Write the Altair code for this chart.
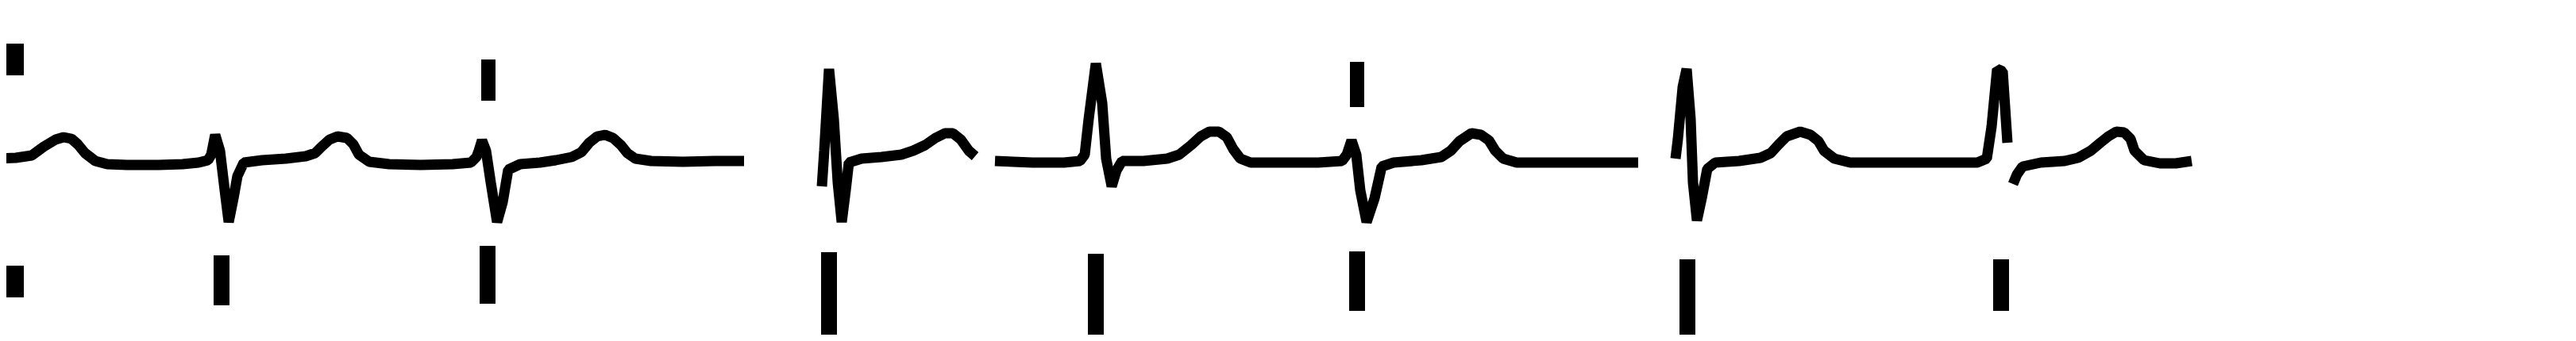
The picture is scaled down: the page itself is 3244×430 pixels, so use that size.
import altair as alt
import pandas as pd

# ECG trace: time position (t) and amplitude (v, baseline = 0)
seg1_t = [0, 20, 40, 55, 70, 80, 90, 98, 107, 120, 135, 160, 200, 230, 250, 262,
          266, 271, 277, 283, 288, 294, 299, 307,
          330, 360, 385, 397, 405, 415, 425, 437, 445, 452, 465, 490, 530, 570, 593, 600,
          603, 607, 612, 618, 626, 633, 640, 655,
          680, 700, 720, 732, 742, 752, 762, 772, 782, 790, 800, 820, 860, 900, 937]
seg1_v = [5, 6, 9, 20, 29, 32, 30, 23, 12, 2, -2, -3, -3, -2, 0, 3,
          10, 35, 15, -35, -75, -45, -17, 0,
          3, 5, 8, 12, 20, 29, 33, 31, 23, 10, 1, -2, -3, -2, 0, 7,
          15, 28, 15, -25, -75, -50, -9, -2,
          0, 3, 7, 13, 25, 33, 35, 31, 22, 12, 5, 2, 1, 2, 2]

seg2_t = [1035, 1038, 1044, 1050, 1055, 1060, 1065, 1069, 1085, 1110, 1135, 1150,
          1165, 1178, 1190, 1200, 1210, 1220, 1228]
seg2_v = [-30, 15, 118, 55, -25, -75, -35, 0, 5, 7, 10, 15,
          22, 31, 37, 37, 29, 15, 8]

seg3_t = [1253, 1300, 1340, 1360, 1366, 1371, 1380, 1388, 1393, 1400, 1406, 1413,
          1440, 1470, 1485, 1500, 1512, 1523, 1535, 1545, 1553, 1562, 1575, 1620, 1660, 1690,
          1696, 1702, 1708, 1713, 1721, 1731, 1740, 1755,
          1790, 1815, 1827, 1838, 1853, 1865, 1875, 1883, 1893, 1910, 1960, 2010, 2063]
seg3_v = [2, 0, 0, 2, 10, 55, 125, 75, 5, -30, -10, 2,
          2, 5, 10, 22, 33, 39, 39, 32, 17, 5, 0, 0, 0, 2,
          10, 28, 10, -35, -75, -45, -5, 0,
          3, 7, 15, 27, 37, 35, 28, 15, 5, 0, 0, 0, 0]

seg4_t = [2110, 2113, 2119, 2124, 2129, 2132, 2137, 2143, 2150, 2160,
          2190, 2217, 2230, 2240, 2250, 2267, 2280, 2290, 2297, 2310, 2330, 2380, 2440, 2490, 2502,
          2508, 2515, 2522, 2528]
seg4_v = [5, 30, 95, 118, 55, -25, -73, -45, -8, 0,
          2, 6, 12, 23, 33, 39, 35, 27, 15, 5, 0, 0, 0, 0, 5,
          45, 118, 115, 25]

seg5_t = [2535, 2540, 2547, 2570, 2600, 2617, 2633, 2645, 2655, 2665, 2675, 2683,
          2688, 2700, 2720, 2740, 2760]
seg5_v = [-27, -15, -5, 0, 2, 6, 15, 25, 33, 39, 38, 30,
          15, 3, -1, -1, 2]

# beat markers above and below the trace
top_mark_t = [615, 1709]
top_mark_v1 = [130, 127]
top_mark_v2 = [78, 70]

bottom_mark_t = [279, 614, 1044, 1380, 1709, 2125, 2520]
bottom_mark_v1 = [-117, -105, -113, -115, -112, -122, -122]
bottom_mark_v2 = [-180, -178, -219, -219, -187, -220, -187]

# small calibration blocks at the left edge
cal_t = [15, 15]
cal_v1 = [150, -130]
cal_v2 = [110, -170]

segments = [(seg1_t, seg1_v), (seg2_t, seg2_v), (seg3_t, seg3_v),
            (seg4_t, seg4_v), (seg5_t, seg5_v)]
rows = []
for sid, (ts, vs) in enumerate(segments):
    for i, (t, v) in enumerate(zip(ts, vs)):
        rows.append({"seg": sid, "i": i, "t": t, "v": v})
trace_df = pd.DataFrame(rows)

top_df = pd.DataFrame({"t": top_mark_t, "v1": top_mark_v1, "v2": top_mark_v2})
bot_df = pd.DataFrame({"t": bottom_mark_t, "v1": bottom_mark_v1, "v2": bottom_mark_v2})
cal_df = pd.DataFrame({"t": cal_t, "v1": cal_v1, "v2": cal_v2})

xs = alt.Scale(domain=[8, 3236], nice=False, zero=False)
ys = alt.Scale(domain=[-217, 197], nice=False, zero=False)

line = alt.Chart(trace_df).mark_line(
    color="black", strokeWidth=13, strokeJoin="bevel", strokeCap="butt"
).encode(
    x=alt.X("t:Q", scale=xs, axis=None),
    y=alt.Y("v:Q", scale=ys, axis=None),
    detail="seg:N",
    order="i:Q",
)

def marks(df, width):
    return alt.Chart(df).mark_rule(color="black", strokeWidth=width, strokeCap="butt").encode(
        x=alt.X("t:Q", scale=xs, axis=None),
        y=alt.Y("v1:Q", scale=ys, axis=None),
        y2="v2:Q",
    )

chart = alt.layer(
    line, marks(top_df, 18), marks(bot_df, 20), marks(cal_df, 30)
).properties(
    width=3228, height=414, padding=0,
    autosize=alt.AutoSizeParams(type="none"),
    background="white",
).configure_view(stroke=None)

chart.save("out.html", embed_options={"renderer": "svg", "actions": False})
